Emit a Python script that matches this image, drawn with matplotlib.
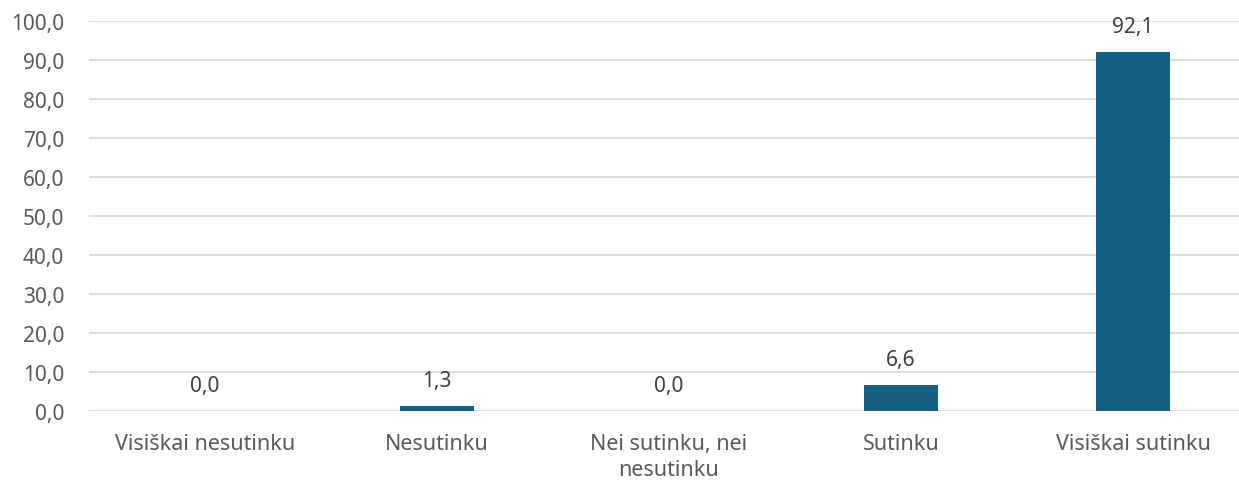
import matplotlib
matplotlib.use("Agg")
import matplotlib.pyplot as plt

# data
categories = ["Visiškai nesutinku", "Nesutinku", "Nei sutinku, nei\nnesutinku", "Sutinku", "Visiškai sutinku"]
values = [0.0, 1.3, 0.0, 6.6, 92.1]
yticks = [0, 10, 20, 30, 40, 50, 60, 70, 80, 90, 100]

plt.rcParams["font.family"] = ["Noto Sans", "DejaVu Sans"]

fig = plt.figure(figsize=(12.39, 4.81), dpi=100)
ax = fig.add_axes([89 / 1239, 1 - 412 / 481, 1 - 89 / 1239, 390 / 481])

x = list(range(len(categories)))
bars = ax.bar(x, values, width=0.315, color="#156082", zorder=3)

for xi, v in zip(x, values):
    ax.annotate(("%.1f" % v).replace(".", ","), (xi, v), xytext=(0, 11),
                textcoords="offset points", ha="center", va="bottom",
                fontsize=15, color="#404040")

ax.set_ylim(0, 100)
ax.set_xlim(-0.5, -0.5 + 1150 / 232)
ax.set_yticks(yticks)
ax.set_yticklabels([("%.1f" % t).replace(".", ",") for t in yticks], fontsize=15, color="#595959")
ax.set_xticks(x)
ax.set_xticklabels(categories, fontsize=15.5, color="#595959", linespacing=1.3)
ax.tick_params(axis="both", length=0)
ax.tick_params(axis="x", pad=16)
ax.tick_params(axis="y", pad=18)
ax.grid(axis="y", color="#d9d9d9", linewidth=1.3, zorder=0)
for s in ax.spines.values():
    s.set_visible(False)

fig.savefig("out.png", dpi=100)
